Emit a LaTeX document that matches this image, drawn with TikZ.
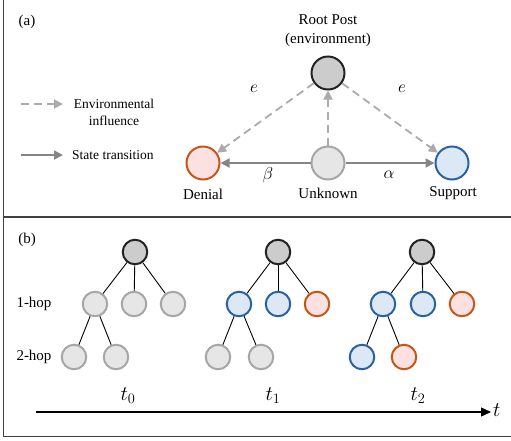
\documentclass[tikz,border=0pt]{standalone}
\usepackage{fontspec}
\setmainfont{Liberation Serif}
\usetikzlibrary{arrows.meta}
\definecolor{framec}{HTML}{404040}
\definecolor{rootfill}{HTML}{CCCCCC}
\definecolor{rootdraw}{HTML}{222222}
\definecolor{unkfill}{HTML}{E6E6E6}
\definecolor{unkdraw}{HTML}{A6A6A6}
\definecolor{denfill}{HTML}{FDE1E1}
\definecolor{dendraw}{HTML}{C4561A}
\definecolor{supfill}{HTML}{DCE8F5}
\definecolor{supdraw}{HTML}{2A62A0}
\definecolor{envc}{HTML}{ABABAB}
\definecolor{transc}{HTML}{858585}
\tikzset{
  big/.style={circle, minimum size=33pt, inner sep=0pt, line width=2pt},
  small/.style={circle, minimum size=24.5pt, inner sep=0pt, line width=2pt},
  rootc/.style={fill=rootfill, draw=rootdraw},
  unkc/.style={fill=unkfill, draw=unkdraw},
  denc/.style={fill=denfill, draw=dendraw},
  supc/.style={fill=supfill, draw=supdraw},
  lbl/.style={font=\fontsize{15}{19}\selectfont, inner sep=0pt},
  leg/.style={font=\fontsize{13.5}{16.5}\selectfont, inner sep=0pt, align=center},
  mlbl/.style={font=\fontsize{19}{22}\selectfont, inner sep=0pt},
  tlbl/.style={font=\fontsize{21}{24}\selectfont, inner sep=0pt},
  envarrow/.style={draw=envc, line width=1.8pt, dash pattern=on 8pt off 5pt, -{Triangle[length=9pt,width=9pt,fill=envc]}},
  transarrow/.style={draw=transc, line width=1.8pt, -{Triangle[length=9pt,width=9pt,fill=transc]}},
  edge/.style={draw=black, line width=0.9pt},
  framel/.style={draw=framec, line width=1.3pt}
}
\begin{document}
\begin{tikzpicture}[x=1pt,y=-1pt]
\useasboundingbox (0,0) rectangle (511,440);
% frame
\coordinate (f1) at (3.5,0);
\coordinate (f2) at (3.5,436.5);
\coordinate (f3) at (511,436.5);
\coordinate (d1) at (3.5,217);
\coordinate (d2) at (511,217);
\draw[framel] (f1) -- (f2) -- (f3);
\draw[framel] (d1) -- (d2);

% ---------- (a) ----------
\node[lbl] (pa) at (27,22) {(a)};
\node[lbl, align=center] (roottxt) at (328,31) {Root Post\\(environment)};
\node[big, rootc] (R) at (328,73) {};
\node[big, unkc] (U) at (328,163) {};
\node[big, denc] (D) at (203,163) {};
\node[big, supc] (S) at (452,163) {};
\node[lbl] (Dl) at (203,194) {Denial};
\node[lbl] (Ul) at (328,193) {Unknown};
\node[lbl] (Sl) at (453,193) {Support};

\draw[envarrow] (R) -- (D);
\draw[envarrow] (R) -- (S);
\draw[envarrow] (U) -- (R);
\draw[transarrow] (U) -- (D);
\draw[transarrow] (U) -- (S);

\node[mlbl] (e1) at (254,89) {$e$};
\node[mlbl] (e2) at (402,89) {$e$};
\node[mlbl] (be) at (268,175) {$\beta$};
\node[mlbl] (al) at (389,175) {$\alpha$};

% legend
\coordinate (l1a) at (21,104);
\coordinate (l1b) at (63,104);
\coordinate (l2a) at (21,155);
\coordinate (l2b) at (63,155);
\draw[envarrow] (l1a) -- (l1b);
\draw[transarrow] (l2a) -- (l2b);
\node[leg] (envtxt) at (114,112.5) {Environmental\\influence};
\node[leg, anchor=west] (sttxt) at (72,155) {State transition};

% ---------- (b) ----------
\node[lbl] (pb) at (27,240) {(b)};
\node[lbl] (h1) at (34,304) {1-hop};
\node[lbl] (h2) at (34,357) {2-hop};

% tree 1
\node[small, rootc] (A0) at (135,252) {};
\node[small, unkc] (A1) at (95,304) {};
\node[small, unkc] (A2) at (134,304) {};
\node[small, unkc] (A3) at (173,304) {};
\node[small, unkc] (A4) at (74,357) {};
\node[small, unkc] (A5) at (116,357) {};
\draw[edge] (A0) -- (A1);
\draw[edge] (A0) -- (A2);
\draw[edge] (A0) -- (A3);
\draw[edge] (A1) -- (A4);
\draw[edge] (A1) -- (A5);

% tree 2
\node[small, rootc] (B0) at (278,252) {};
\node[small, supc] (B1) at (239,304) {};
\node[small, supc] (B2) at (278,304) {};
\node[small, denc] (B3) at (317,304) {};
\node[small, unkc] (B4) at (218,357) {};
\node[small, unkc] (B5) at (261,357) {};
\draw[edge] (B0) -- (B1);
\draw[edge] (B0) -- (B2);
\draw[edge] (B0) -- (B3);
\draw[edge] (B1) -- (B4);
\draw[edge] (B1) -- (B5);

% tree 3
\node[small, rootc] (C0) at (422,252) {};
\node[small, supc] (C1) at (383,304) {};
\node[small, supc] (C2) at (423,304) {};
\node[small, denc] (C3) at (462,304) {};
\node[small, supc] (C4) at (362,357) {};
\node[small, denc] (C5) at (404,357) {};
\draw[edge] (C0) -- (C1);
\draw[edge] (C0) -- (C2);
\draw[edge] (C0) -- (C3);
\draw[edge] (C1) -- (C4);
\draw[edge] (C1) -- (C5);

\node[tlbl] (t0) at (128,396) {$t_0$};
\node[tlbl] (t1) at (273,396) {$t_1$};
\node[tlbl] (t2) at (418,396) {$t_2$};

\coordinate (ax1) at (36,412);
\coordinate (ax2) at (491,412);
\draw[line width=1.2pt, -{Triangle[length=10pt,width=9pt]}] (ax1) -- (ax2);
\node[tlbl, anchor=west] (tl) at (493,410) {$t$};
\end{tikzpicture}
\end{document}
